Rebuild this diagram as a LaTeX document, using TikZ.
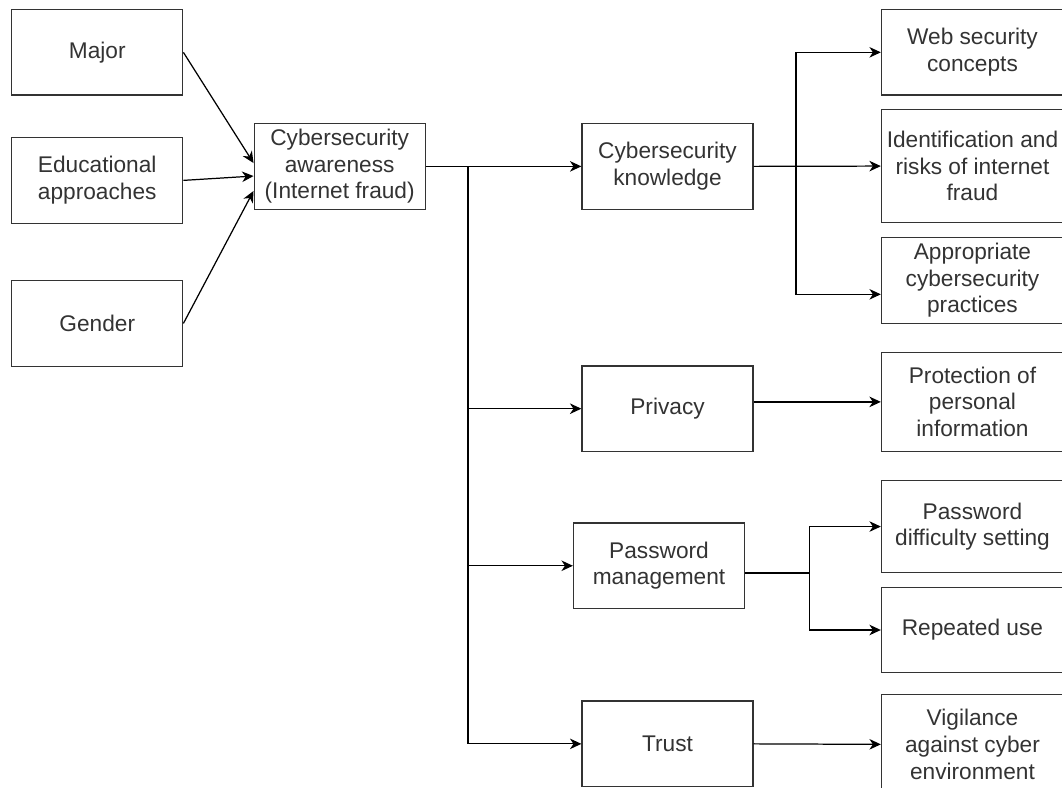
\documentclass[tikz,border=0pt]{standalone}
\usepackage{fontspec}
\setmainfont{Liberation Sans}
\usetikzlibrary{arrows.meta}
\newcommand{\diagfont}{\fontsize{12.9pt}{15.1pt}\selectfont}
\tikzset{
  box/.style={draw=black!80, line width=0.7pt, align=center, inner sep=0pt,
    text=black!80, font=\diagfont, minimum width=3.42cm, minimum height=1.71cm},
  leafbox/.style={box, minimum width=3.64cm},
  arr/.style={-{Stealth[length=6.5pt, width=6pt, inset=2pt]}, line width=0.7pt},
  link/.style={line width=0.7pt},
}

\begin{document}
\begin{tikzpicture}[x=0.02cm, y=-0.02cm]
    \clip (0,0) rectangle (1061.5,787);
    \fill[white] (0,0) rectangle (1061.5,787);

    % Factors
    \node[box] (major) at (97.2,52.3) {Major};
    \node[box] (edu) at (97.2,180.3) {Educational\\approaches};
    \node[box] (gender) at (97.2,323.3) {Gender};
    \node[box] (aware) at (339.5,166.3) {Cybersecurity\\awareness\\(Internet fraud)};

    % Dimensions
    \node[box] (know) at (667.2,166.3) {Cybersecurity\\knowledge};
    \node[box] (priv) at (667.2,408.5) {Privacy};
    \node[box] (pwm) at (658.7,565.5) {Password\\management};
    \node[box] (trust) at (667.2,743.5) {Trust};

    % Items
    \node[leafbox] (web) at (972,52.3) {Web security\\concepts};
    \node[leafbox, minimum height=2.27cm] (ident) at (972,166) {Identification and\\risks of internet\\fraud};
    \node[leafbox] (appr) at (972,280.3) {Appropriate\\cybersecurity\\practices};
    \node[leafbox, minimum height=1.99cm] (prot) at (972,401.7) {Protection of\\personal\\information};
    \node[leafbox, minimum height=1.84cm] (pwd) at (972,526.3) {Password\\difficulty setting};
    \node[leafbox] (rep) at (972,629.7) {Repeated use};
    \node[leafbox, minimum height=2cm] (vig) at (972,744) {Vigilance\\against cyber\\environment};

    % Factors -> awareness
    \draw[arr] (major.east) -- ([yshift=1.9pt]aware.west);
    \draw[arr] (edu.east) -- ([yshift=-5.5pt]aware.west);
    \draw[arr] (gender.east) -- ([yshift=-14pt]aware.west);

    % Awareness -> dimensions
    \coordinate (trunk) at (467.7,166.3);
    \draw[arr] (aware.east) -- (know.west);
    \draw[arr] (trunk) |- (priv.west);
    \draw[arr] (trunk) |- (pwm.west);
    \draw[arr] (trunk) |- (trust.west);

    % Dimensions -> items
    \coordinate (kb) at (795.5,166.3);
    \draw[arr] (know.east) -- (ident.west);
    \draw[arr] (kb) |- (web.west);
    \draw[arr] (kb) |- ([yshift=-7.9pt]appr.west);
    \draw[arr] (priv.east |- prot.west) -- (prot.west);
    \coordinate (pb) at (809.3,572.7);
    \draw[link] (pwm.east |- pb) -- (pb);
    \draw[arr] (pb) |- (pwd.west);
    \draw[arr] (pb) |- (rep.west);
    \draw[arr] (trust.east) -- (vig.west);
\end{tikzpicture}
\end{document}
